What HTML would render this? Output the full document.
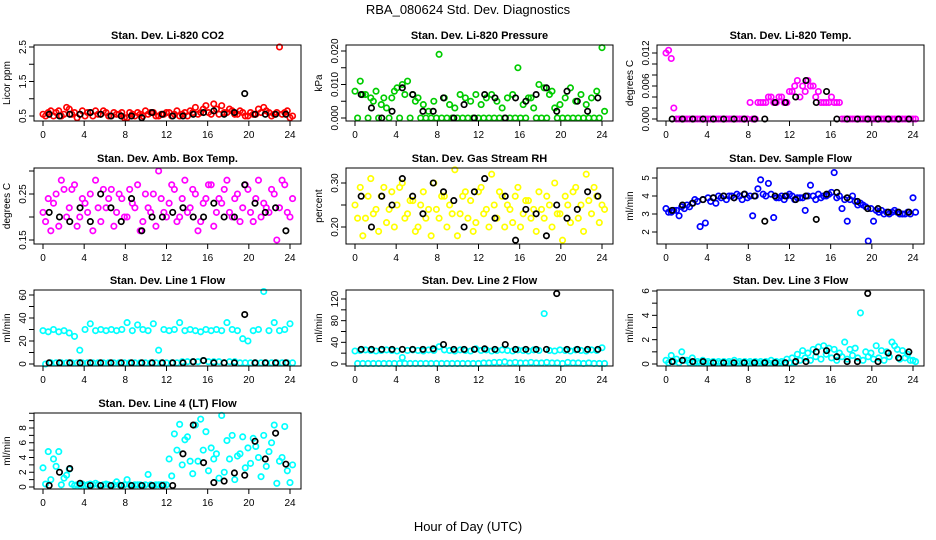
<!DOCTYPE html>
<html><head><meta charset="utf-8"><style>
html,body{margin:0;padding:0;background:#fff}
svg{display:block;font-family:"Liberation Sans",sans-serif}
</style></head><body>
<svg id="chart" width="936" height="540" viewBox="0 0 936 540" xmlns="http://www.w3.org/2000/svg">
<rect width="936" height="540" fill="#fff"/>
<text x="468" y="14" font-size="13" text-anchor="middle">RBA_080624  Std. Dev. Diagnostics</text>
<text x="468" y="531" font-size="13" text-anchor="middle">Hour of Day (UTC)</text>
</svg>
<script>
const co2Main=[0.55,0.6,0.5,0.65,0.55,0.7,0.6,0.55,0.5,0.6,0.65,0.55,0.6,0.5,0.55,0.6,0.45,0.55,0.6,0.5,0.55,0.6,0.5,0.55,0.6,0.55,0.5,0.6,0.65,0.75,0.6,0.8,0.55,0.7,0.8,0.6,0.65,0.55,0.6,0.5,0.55,0.7,0.75,0.6,0.55,2.5,0.6,0.45];
const co2Alt=[0.5,0.65,0.6,0.5,0.75,0.55,0.45,0.65,0.6,0.5,0.55,0.65,0.5,0.6,0.55,0.45,0.6,0.5,0.55,0.65,0.6,0.5,0.55,0.6,0.5,0.65,0.55,0.5,0.6,0.55,0.7,0.6,0.85,0.55,0.6,0.7,0.55,0.65,0.5,0.6,0.55,0.6,0.65,0.5,0.6,0.55,0.65,0.5];
const co2Black=[0.55,0.5,0.55,0.55,0.6,0.55,0.5,0.5,0.5,0.45,0.6,0.55,0.5,0.5,0.55,0.6,0.65,0.55,0.6,1.15,0.55,0.55,0.55,0.55];
const presMain=[0.008,0.011,0.007,0.006,0.008,0.004,0.003,0.006,0.009,0.010,0.011,0.007,0.006,0.004,0.002,0.005,0.019,0.006,0.004,0.003,0.007,0.006,0.005,0.007,0.004,0.006,0.007,0.005,0.003,0.006,0.007,0.015,0.004,0.006,0.003,0.010,0.009,0.007,0.003,0.004,0.006,0.009,0.005,0.007,0.004,0.006,0.008,0.021];
const presAlt=[0,0.007,0,0.005,0,0.006,0,0.008,0,0.007,0,0.005,0,0,0,0,0,0,0,0,0,0,0,0,0,0,0,0,0,0,0,0,0,0.006,0,0,0,0.008,0,0,0,0,0,0,0,0,0,0.002];
const presBlack=[0.007,0.003,0,0.002,0.009,0.007,0.002,0.002,0.006,0,0.004,0,0.007,0.006,0,0.006,0.005,0.007,0.009,0.002,0.008,0.005,0.002,0.006];
const tempMain=[0.012,0.011,0,0,0,0,0,0,0,0,0,0,0,0,0,0,0.003,0,0.003,0.003,0.004,0.003,0.004,0.003,0.005,0.007,0.006,0.007,0.006,0.005,0.003,0.003,0.003,0.003,0,0,0,0,0,0,0,0,0,0,0,0,0,0];
const tempAlt=[0.0125,0.002,0,0,0,0,0,0,0,0,0,0,0,0,0,0,0,0.003,0.003,0.004,0.003,0.004,0.003,0.005,0.006,0.004,0.005,0.006,0.004,0.003,0.003,0.004,0.003,0,0,0,0,0,0,0,0,0,0,0,0,0,0,0];
const tempBlack=[0,0,0,0,0,0,0,0,0,0,0.003,0.003,0.004,0.007,0.003,0.005,0,0,0,0,0,0,0,0];
const boxMain=[0.21,0.24,0.23,0.18,0.26,0.22,0.27,0.20,0.23,0.25,0.28,0.19,0.22,0.26,0.21,0.24,0.20,0.23,0.27,0.19,0.22,0.25,0.30,0.21,0.23,0.26,0.20,0.28,0.22,0.25,0.19,0.24,0.27,0.21,0.23,0.28,0.20,0.25,0.22,0.26,0.19,0.28,0.23,0.21,0.25,0.22,0.27,0.20];
const boxAlt=[0.19,0.17,0.25,0.28,0.20,0.26,0.18,0.24,0.21,0.17,0.22,0.26,0.24,0.18,0.25,0.20,0.26,0.22,0.17,0.25,0.21,0.18,0.24,0.20,0.27,0.19,0.24,0.21,0.26,0.17,0.23,0.27,0.18,0.24,0.26,0.21,0.24,0.19,0.27,0.21,0.24,0.20,0.22,0.26,0.15,0.28,0.21,0.24];
const boxBlack=[0.21,0.20,0.19,0.22,0.19,0.25,0.22,0.19,0.24,0.17,0.20,0.20,0.21,0.22,0.20,0.20,0.23,0.20,0.20,0.27,0.23,0.21,0.22,0.17];
const rhMain=[0.25,0.29,0.22,0.31,0.24,0.27,0.21,0.28,0.25,0.30,0.23,0.26,0.20,0.28,0.24,0.30,0.22,0.27,0.25,0.33,0.23,0.28,0.26,0.21,0.29,0.24,0.32,0.22,0.27,0.25,0.21,0.29,0.23,0.26,0.24,0.28,0.22,0.25,0.30,0.23,0.27,0.21,0.29,0.25,0.32,0.23,0.27,0.25];
const rhAlt=[0.22,0.18,0.27,0.23,0.19,0.29,0.24,0.20,0.29,0.22,0.26,0.19,0.25,0.22,0.18,0.24,0.27,0.20,0.23,0.18,0.27,0.22,0.19,0.28,0.23,0.20,0.25,0.28,0.20,0.24,0.27,0.20,0.26,0.22,0.19,0.24,0.27,0.20,0.23,0.17,0.25,0.28,0.22,0.19,0.26,0.29,0.21,0.24];
const rhBlack=[0.27,0.20,0.27,0.25,0.31,0.27,0.23,0.30,0.28,0.26,0.20,0.28,0.31,0.22,0.27,0.17,0.24,0.23,0.18,0.25,0.22,0.24,0.28,0.27];
const flowMain=[3.3,3.1,3.2,3.4,3.5,3.6,3.7,3.8,3.9,3.9,4.0,4.0,4.0,3.9,4.0,4.1,4.0,4.0,4.9,4.0,4.1,3.9,4.0,4.0,4.0,3.9,3.9,4.0,4.0,4.1,4.0,4.1,5.3,4.0,3.8,3.8,3.7,3.6,3.4,3.3,3.2,3.2,3.1,3.1,3.1,3.0,3.1,3.9];
const flowAlt=[3.1,3.2,2.9,3.3,3.4,3.8,2.3,2.5,3.7,3.6,3.9,3.8,4.0,4.1,3.8,3.9,2.9,4.4,4.1,4.7,2.8,3.9,3.8,4.1,3.8,3.9,3.2,4.6,3.8,3.9,4.0,4.2,3.9,3.3,2.6,4.0,3.5,3.5,1.5,2.6,3.1,3.0,3.0,3.2,3.0,3.0,3.0,3.1];
const flowBlack=[3.2,3.5,3.6,3.8,3.9,4.0,3.9,4.1,4.0,2.6,4.0,4.0,3.8,4.0,2.7,4.1,4.2,3.9,3.7,3.3,3.3,3.1,3.1,3.1];
const l1Main=[29,28,30,28,29,27,24,12,30,35,29,30,29,30,29,30,36,29,34,30,29,35,12,30,29,30,36,29,30,29,28,30,29,30,29,36,30,29,22,20,29,30,63,29,36,29,30,35];
const l1Alt=[0,1,1,1,1,1,1,1,1,1,1,1,1,1,1,1,1,1,1,1,1,1,1,1,1,1,2,2,2,2,3,2,2,2,1,2,2,1,1,1,1,1,1,1,1,1,1,1];
const l1Black=[1,1,1,1,1,1,1,1,1,1,1,1,1,1,2,3,1,1,1,43,1,1,1,1];
const l2Main=[24,25,26,25,24,25,26,25,24,12,25,26,25,24,26,25,32,26,25,24,26,25,24,28,25,26,24,25,26,25,24,26,25,24,26,25,93,25,24,26,25,24,26,25,24,26,25,30];
const l2Alt=[1,1,1,1,1,1,1,1,1,1,1,1,1,1,1,1,1,1,1,1,1,1,1,1,2,2,3,3,4,2,3,2,2,3,2,2,3,2,2,1,3,2,2,1,2,1,1,1];
const l2Black=[27,27,27,27,27,27,27,28,36,27,27,27,28,27,36,27,27,27,27,130,27,27,27,27];
const l3Main=[0.3,0.7,0.4,1.0,0.3,0.5,0.2,0.3,0.2,0.2,0.2,0.2,0.2,0.3,0.2,0.2,0.2,0.2,0.2,0.2,0.3,0.2,0.2,0.4,0.5,0.8,1.1,0.9,1.2,1.4,1.5,1.3,1.2,0.9,1.8,1.2,1.3,4.2,1.0,0.9,1.5,1.1,1.0,1.8,1.2,1.1,0.8,0.3];
const l3Alt=[0.1,0.2,0.1,0.3,0.1,0.1,0.1,0.1,0.1,0.1,0.1,0.1,0.1,0.1,0.1,0.1,0.1,0.1,0.1,0.1,0.1,0.1,0.1,0.1,0.1,0.3,0.5,0.3,0.6,0.4,0.8,0.5,0.3,0.6,0.4,0.7,0.5,0.3,0.6,0.4,0.5,0.3,0.6,1.5,0.4,0.5,0.3,0.2];
const l3Black=[0.2,0.3,0.2,0.2,0.1,0.1,0.1,0.1,0.1,0.1,0.1,0.1,0.2,0.2,1.0,1.1,0.6,0.2,0.2,5.8,0.2,0.9,0.5,1.0];
const l4Main=[2.6,4.8,3.8,4.8,1.2,2.4,0.2,0.2,0.2,0.4,0.5,0.2,0.4,0.2,0.7,0.2,1.0,0.2,0.3,0.2,1.7,0.2,0.3,0.3,3.8,7.2,8.5,6.4,3.5,8.4,9.2,7.5,5.3,4.5,9.7,6.3,7.0,4.2,6.8,5.3,6.6,4.0,7.0,4.8,8.4,3.5,8.2,0.6];
const l4Alt=[0.4,1.0,2.8,0.3,1.6,0.4,0.3,0.4,0.3,0.3,0.3,0.3,0.3,0.3,0.3,0.3,0.3,0.3,0.3,0.3,0.3,0.3,0.3,0.3,1.5,5.0,3.0,6.8,1.8,3.5,5.0,2.2,3.8,1.2,2.0,3.8,1.0,4.5,2.6,3.2,5.5,1.4,2.8,6.0,0.5,4.0,2.2,3.0];
const l4Black=[0.2,2.0,2.5,0.5,0.2,0.2,0.2,0.2,0.2,0.2,0.2,0.2,0.2,4.5,8.4,3.3,0.6,0.8,1.9,1.6,6.2,3.8,7.3,3.1];
const xTicks=[0,4,8,12,16,20,24];

const NS='http://www.w3.org/2000/svg';
const svg=document.getElementById('chart');
function mk(tag,attrs,parent){const e=document.createElementNS(NS,tag);for(const k in attrs)e.setAttribute(k,attrs[k]);(parent||svg).appendChild(e);return e;}

const panels=[
 {name:'co2',title:'Stan. Dev. Li-820 CO2',ylab:'Licor ppm',col:0,row:0,color:'#ff0000',main:co2Main,alt:co2Alt,black:co2Black,v1:0.5,p1:116,v2:2.5,p2:47,ticks:[0.5,1,1.5,2,2.5],labels:{'0.5':'0.5','1.5':'1.5','2.5':'2.5'}},
 {name:'pressure',title:'Stan. Dev. Li-820 Pressure',ylab:'kPa',col:1,row:0,color:'#00cc00',main:presMain,alt:presAlt,black:presBlack,v1:0,p1:118,v2:0.02,p2:51,ticks:[0,0.005,0.01,0.015,0.02],labels:{'0':'0.000','0.01':'0.010','0.02':'0.020'}},
 {name:'temp',title:'Stan. Dev. Li-820 Temp.',ylab:'degrees C',col:2,row:0,color:'#ff00ff',main:tempMain,alt:tempAlt,black:tempBlack,v1:0,p1:119,v2:0.012,p2:53,ticks:[0,0.002,0.004,0.006,0.008,0.01,0.012],labels:{'0':'0.000','0.006':'0.006','0.012':'0.012'}},
 {name:'ambbox',title:'Stan. Dev. Amb. Box Temp.',ylab:'degrees C',col:0,row:1,color:'#ff00ff',main:boxMain,alt:boxAlt,black:boxBlack,v1:0.15,p1:240,v2:0.25,p2:194,ticks:[0.15,0.2,0.25,0.3],labels:{'0.15':'0.15','0.25':'0.25'}},
 {name:'rh',title:'Stan. Dev. Gas Stream RH',ylab:'percent',col:1,row:1,color:'#ffff00',main:rhMain,alt:rhAlt,black:rhBlack,v1:0.2,p1:227,v2:0.3,p2:183,ticks:[0.2,0.25,0.3],labels:{'0.2':'0.20','0.3':'0.30'}},
 {name:'sampleflow',title:'Stan. Dev. Sample Flow',ylab:'ml/min',col:2,row:1,color:'#0000ff',main:flowMain,alt:flowAlt,black:flowBlack,v1:2,p1:232,v2:5,p2:178,ticks:[2,3,4,5],labels:{'2':'2','3':'3','4':'4','5':'5'}},
 {name:'line1',title:'Stan. Dev. Line 1 Flow',ylab:'ml/min',col:0,row:2,color:'#00ffff',main:l1Main,alt:l1Alt,black:l1Black,v1:0,p1:364,v2:60,p2:295,ticks:[0,10,20,30,40,50,60],labels:{'0':'0','20':'20','40':'40','60':'60'}},
 {name:'line2',title:'Stan. Dev. Line 2 Flow',ylab:'ml/min',col:1,row:2,color:'#00ffff',main:l2Main,alt:l2Alt,black:l2Black,v1:0,p1:364,v2:120,p2:299,ticks:[0,20,40,60,80,100,120],labels:{'0':'0','40':'40','80':'80','120':'120'}},
 {name:'line3',title:'Stan. Dev. Line 3 Flow',ylab:'ml/min',col:2,row:2,color:'#00ffff',main:l3Main,alt:l3Alt,black:l3Black,v1:0,p1:364,v2:6,p2:291,ticks:[0,1,2,3,4,5,6],labels:{'0':'0','2':'2','4':'4','6':'6'}},
 {name:'line4',title:'Stan. Dev. Line 4 (LT) Flow',ylab:'ml/min',col:0,row:3,color:'#00ffff',main:l4Main,alt:l4Alt,black:l4Black,v1:0,p1:487,v2:8,p2:428,ticks:[0,1,2,3,4,5,6,7,8,9,10],labels:{'0':'0','2':'2','4':'4','6':'6','8':'8'}}
];
const colX=[34,346,657], rowY=[45,168,290,413], W=267, H=76;

panels.forEach(p=>{
  const bx=colX[p.col], by=rowY[p.row];
  const g=mk('g',{});
  
  
  const xs=h=>bx+9+h*(247/24);
  const ys=v=>p.p1+(v-p.v1)*(p.p2-p.p1)/(p.v2-p.v1);
  const t=mk('text',{x:bx+W/2,y:by-6,'font-size':11,'font-weight':'bold','text-anchor':'middle'},g);
  t.textContent=p.title;
  
  
  const cy=by+H/2;
  const yl=mk('text',{x:bx-24,y:cy,'font-size':10,'text-anchor':'middle',transform:`rotate(-90 ${bx-24} ${cy})`},g);
  yl.textContent=p.ylab;
  
  
  const drawSeries=(arr,col,n,off,name)=>{
    arr.forEach((v,i)=>{
      const c=mk('circle',{cx:xs(i*(24/n)+off),cy:ys(v),r:2.7,fill:'none',stroke:col,'stroke-width':1.7},g);
      
      
    });
  };
  drawSeries(p.main,p.color,47,0,'point-main');
  drawSeries(p.alt,p.color,47,0.25,'point-alt');
  drawSeries(p.black,'#000',24,0.6,'point-black');
  const b=mk('rect',{x:bx,y:by,width:W,height:H,fill:'none',stroke:'#000','stroke-width':1},g);
  
  
  mk('line',{x1:xs(0),x2:xs(24),y1:by+H,y2:by+H,stroke:'#000'},g);
  xTicks.forEach(h=>{
    mk('line',{x1:xs(h),x2:xs(h),y1:by+H,y2:by+H+5,stroke:'#000'},g);
    const tl=mk('text',{x:xs(h),y:by+H+17,'font-size':10,'text-anchor':'middle'},g);
    tl.textContent=h;
    
    
  });
  mk('line',{x1:bx,x2:bx,y1:ys(p.ticks[0]),y2:ys(p.ticks[p.ticks.length-1]),stroke:'#000'},g);
  p.ticks.forEach(v=>{
    const y=ys(v);
    mk('line',{x1:bx-5,x2:bx,y1:y,y2:y,stroke:'#000'},g);
    const lab=p.labels[String(v)];
    if(lab){
      const tl=mk('text',{x:bx-8,y:y,'font-size':10,'text-anchor':'middle',transform:`rotate(-90 ${bx-8} ${y})`},g);
      tl.textContent=lab;
      
      
    }
  });
});
</script>
</body></html>
